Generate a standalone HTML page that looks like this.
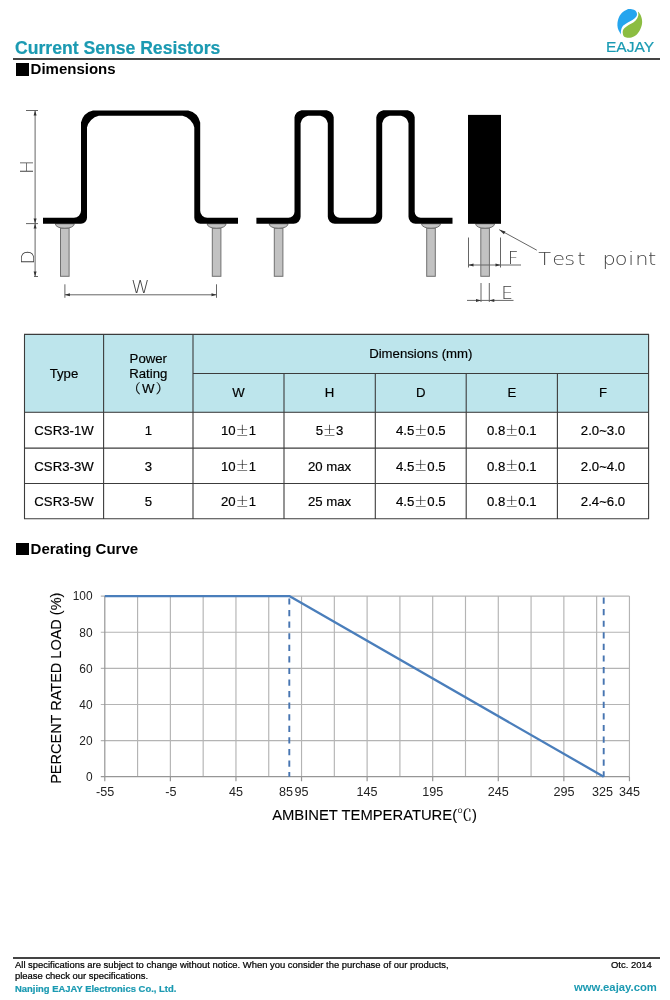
<!DOCTYPE html>
<html lang="en">
<head>
<meta charset="utf-8">
<title>Current Sense Resistors</title>
<style>
html,body{margin:0;padding:0;background:#fff;}
body{width:670px;height:1000px;position:relative;overflow:hidden;font-family:"Liberation Sans","Noto Sans CJK SC",sans-serif;color:#000;}
.abs{position:absolute;white-space:nowrap;line-height:1;}
.teal{color:#1b9ab2;}
#title{left:15px;top:40px;font-size:17.6px;font-weight:bold;-webkit-text-stroke:0.2px currentColor;}
#hline{left:13px;top:58px;width:647px;height:2px;background:#444;}
.sec{font-size:15px;font-weight:bold;}
.sq{position:absolute;width:13px;height:12.5px;background:#000;}
#brand{left:605.5px;top:39.2px;font-size:15.4px;color:#1a9bb3;transform:scaleX(1.01);transform-origin:0 0;-webkit-text-stroke:0.2px currentColor;}
#fline{left:13px;top:957px;width:647px;height:1.5px;background:#444;}
.ft{font-size:9.43px;-webkit-text-stroke:0.22px currentColor;}
</style>
</head>
<body>
<div id="title" class="abs teal">Current Sense Resistors</div>
<div id="hline" class="abs"></div>
<svg class="abs" style="left:600px;top:0" width="70" height="45" viewBox="600 0 70 45">
<path fill="#25a5ee" d="M629.70,9.07 C630.90,9.10 632.79,9.40 633.88,9.85 C634.98,10.30 635.75,11.04 636.27,11.76 C636.79,12.48 637.00,13.30 636.99,14.15 C636.97,15.00 636.85,15.92 636.15,16.84 C635.45,17.75 634.26,18.68 632.81,19.64 C631.35,20.61 629.02,21.63 627.43,22.63 C625.84,23.62 624.29,24.44 623.25,25.61 C622.22,26.79 621.62,28.40 621.22,29.67 C620.83,30.95 620.85,32.36 620.87,33.25 C620.89,34.15 621.56,35.24 621.34,35.04 C621.12,34.85 620.15,33.25 619.55,32.06 C618.96,30.87 618.11,29.37 617.76,27.88 C617.41,26.39 617.26,24.90 617.46,23.10 C617.66,21.31 618.11,18.93 618.96,17.13 C619.80,15.34 621.24,13.60 622.54,12.36 C623.83,11.11 625.52,10.22 626.72,9.67 C627.91,9.12 628.51,9.04 629.70,9.07Z"/>
<path fill="#8cbd42" d="M638.06,11.76 C638.41,11.76 639.80,13.45 640.45,14.75 C641.09,16.04 641.69,17.93 641.94,19.52 C642.19,21.11 642.29,22.51 641.94,24.30 C641.59,26.09 640.80,28.48 639.85,30.27 C638.91,32.06 637.66,33.85 636.27,35.04 C634.88,36.24 632.99,36.99 631.49,37.43 C630.00,37.88 628.56,37.88 627.31,37.73 C626.07,37.58 624.78,37.18 624.03,36.54 C623.28,35.89 623.03,34.80 622.84,33.85 C622.64,32.91 622.55,31.82 622.84,30.87 C623.12,29.91 623.66,29.04 624.57,28.12 C625.47,27.19 626.76,26.28 628.27,25.31 C629.78,24.35 632.17,23.45 633.64,22.33 C635.11,21.20 636.32,19.83 637.10,18.57 C637.89,17.30 638.20,15.88 638.36,14.75 C638.52,13.61 637.71,11.76 638.06,11.76Z"/>
</svg>
<div id="brand" class="abs">EAJAY</div>

<div class="sq" style="left:16px;top:63px"></div>
<div class="abs sec" style="left:30.6px;top:61.1px">Dimensions</div>

<!-- DIAGRAM -->
<svg class="abs" style="left:0;top:95px" width="670" height="225" viewBox="0 95 670 225" font-family="'Liberation Sans',sans-serif">
  <g fill="#c2c2c2" stroke="#707070" stroke-width="1">
    <path d="M55.3,223.8 A9.5,4.6 0 0 0 74.3,223.8 Z"/><rect x="60.5" y="228.3" width="8.6" height="48"/>
    <path d="M207.1,223.8 A9.5,4.6 0 0 0 226.1,223.8 Z"/><rect x="212.3" y="228.3" width="8.6" height="48"/>
    <path d="M269.1,223.8 A9.5,4.6 0 0 0 288.1,223.8 Z"/><rect x="274.3" y="228.3" width="8.6" height="48"/>
    <path d="M421.5,223.8 A9.5,4.6 0 0 0 440.5,223.8 Z"/><rect x="426.7" y="228.3" width="8.6" height="48"/>
    <path d="M475.6,223.8 A9.5,4.6 0 0 0 494.6,223.8 Z"/><rect x="480.8" y="228.3" width="8.6" height="48"/>
  </g>
  <g fill="#000" stroke="none">
    <path d="M43,217.8 H74 A7,7 0 0 0 81,210.8 V122.6 A16,16 0 0 1 93,110.6 H188.2 A16,16 0 0 1 200.2,122.6 V210.8 A7,7 0 0 0 207.2,217.8 H238 V223.8 H200.3 A6,6 0 0 1 194.3,217.8 V127.6 A15,15 0 0 0 182.5,115.8 H98.8 A15,15 0 0 0 87,127.6 V217.8 A6,6 0 0 1 81,223.8 H43 Z"/>
    <path d="M256.4,217.7 H288.5 A6,6 0 0 0 294.5,211.7 V117.2 A9,9 0 0 1 301.5,110.2 H326.7 A9,9 0 0 1 333.7,117.2 V211.7 A6,6 0 0 0 339.7,217.7 H370.3 A6,6 0 0 0 376.3,211.7 V117.2 A9,9 0 0 1 383.3,110.2 H407.7 A9,9 0 0 1 414.7,117.2 V211.7 A6,6 0 0 0 420.7,217.7 H452.5 V223.8 H415.5 A7,7 0 0 1 408.5,216.8 V123.3 A9.5,9.5 0 0 0 401,115.8 H389.7 A9.5,9.5 0 0 0 382.2,123.3 V216.8 A7,7 0 0 1 375.2,223.8 H334.8 A7,7 0 0 1 327.8,216.8 V123.3 A9.5,9.5 0 0 0 320.3,115.8 H308.1 A9.5,9.5 0 0 0 300.6,123.3 V216.8 A7,7 0 0 1 293.6,223.8 H256.4 Z"/>
  </g>
  <rect x="468" y="114.9" width="33" height="108.9" fill="#000"/>
  <g stroke="#666" stroke-width="1" fill="none">
    <path d="M26,110.5 H38 M35.1,110.5 V276.5 M26,223.6 H38 M34,276.5 H38"/>
    <path d="M64.9,284.3 V297.8 M216.5,284.3 V297.8 M64.9,294.8 H216.5"/>
    <path d="M468.5,237.5 V267.5 M500.5,237.5 V267.5 M468.5,265 H521"/>
    <path d="M481,283 V302 M489.3,283 V302 M467,300.4 H513.5"/>
    <path d="M499.3,229.7 L536.8,250.2"/>
  </g>
  <g fill="#333">
    <path d="M35.1,110.5 l-1.5,5 h3z M35.1,223.6 l-1.5,-5 h3z M35.1,223.6 l-1.5,5 h3z M35.1,276.5 l-1.5,-5 h3z"/>
    <path d="M64.9,294.8 l5,-1.5 v3z M216.5,294.8 l-5,-1.5 v3z"/>
    <path d="M468.5,265 l5,-1.5 v3z M500.5,265 l-5,-1.5 v3z"/>
    <path d="M481,300.4 l-5,-1.5 v3z M489.3,300.4 l5,-1.5 v3z"/>
    <path d="M499.3,229.7 l6.2,1.7 l-1.6,2.9z"/>
  </g>
  <g fill="#444" font-size="18.5" font-family="'DejaVu Sans Light','DejaVu Sans',sans-serif" font-weight="200">
    <text transform="translate(33.4,173.9) rotate(-90)">H</text>
    <text transform="translate(33.6,264.6) rotate(-90)">D</text>
    <text x="140.5" y="293.4" text-anchor="middle">W</text>
    <text x="507.8" y="264.3">F</text>
    <text x="501.3" y="299.4">E</text>
    <text transform="scale(1.13,1)" x="476.3 488.8 499.3 510.9 522.1 533.1 544.1 555.9 562.2 573.5" y="264.6">Test point</text>
  </g>
</svg>

<!-- TABLE -->
<svg class="abs" style="left:0;top:325px" width="670" height="200" viewBox="0 325 670 200" font-family="'Liberation Sans','Noto Sans CJK SC',sans-serif" font-size="13.2" text-anchor="middle" fill="#000" stroke="#000" stroke-width="0.18">
  <rect x="24.5" y="334.4" width="624.1" height="77.9" fill="#bde5ec"/>
  <path d="M24.0,334.4 H649.1 M24.0,412.3 H649.1 M24.0,448.1 H649.1 M24.0,483.5 H649.1 M24.0,518.8 H649.1 M193.0,373.5 H648.6 M24.5,334.4 V518.8 M103.6,334.4 V518.8 M193.0,334.4 V518.8 M648.6,334.4 V518.8 M284.0,373.5 V518.8 M375.3,373.5 V518.8 M466.2,373.5 V518.8 M557.4,373.5 V518.8" stroke="#3c3c3c" stroke-width="1.1" fill="none"/>
  <text x="64.0" y="378.2">Type</text>
  <text x="148.3" y="363.1">Power</text>
  <text x="148.3" y="378.0">Rating</text>
  <text x="148.3" y="392.8"><tspan font-family="'Noto Serif CJK SC',serif">（</tspan><tspan dx="1.3">W</tspan><tspan dx="1.3" font-family="'Noto Serif CJK SC',serif">）</tspan></text>
  <text x="420.8" y="358.4">Dimensions (mm)</text>
  <text x="238.5" y="397.1">W</text>
  <text x="329.6" y="397.1">H</text>
  <text x="420.8" y="397.1">D</text>
  <text x="511.8" y="397.1">E</text>
  <text x="603.0" y="397.1">F</text>
  <text x="64.0" y="435.3">CSR3-1W</text>
  <text x="148.3" y="435.3">1</text>
  <text x="238.5" y="435.3">10<tspan font-family="'Noto Serif CJK SC',serif" font-size="13" stroke-width="0.05" dy="-0.6">±</tspan><tspan dy="0.6">1</tspan></text>
  <text x="329.6" y="435.3">5<tspan font-family="'Noto Serif CJK SC',serif" font-size="13" stroke-width="0.05" dy="-0.6">±</tspan><tspan dy="0.6">3</tspan></text>
  <text x="420.8" y="435.3">4.5<tspan font-family="'Noto Serif CJK SC',serif" font-size="13" stroke-width="0.05" dy="-0.6">±</tspan><tspan dy="0.6">0.5</tspan></text>
  <text x="511.8" y="435.3">0.8<tspan font-family="'Noto Serif CJK SC',serif" font-size="13" stroke-width="0.05" dy="-0.6">±</tspan><tspan dy="0.6">0.1</tspan></text>
  <text x="603.0" y="435.3">2.0~3.0</text>
  <text x="64.0" y="470.9">CSR3-3W</text>
  <text x="148.3" y="470.9">3</text>
  <text x="238.5" y="470.9">10<tspan font-family="'Noto Serif CJK SC',serif" font-size="13" stroke-width="0.05" dy="-0.6">±</tspan><tspan dy="0.6">1</tspan></text>
  <text x="329.6" y="470.9">20 max</text>
  <text x="420.8" y="470.9">4.5<tspan font-family="'Noto Serif CJK SC',serif" font-size="13" stroke-width="0.05" dy="-0.6">±</tspan><tspan dy="0.6">0.5</tspan></text>
  <text x="511.8" y="470.9">0.8<tspan font-family="'Noto Serif CJK SC',serif" font-size="13" stroke-width="0.05" dy="-0.6">±</tspan><tspan dy="0.6">0.1</tspan></text>
  <text x="603.0" y="470.9">2.0~4.0</text>
  <text x="64.0" y="506.2">CSR3-5W</text>
  <text x="148.3" y="506.2">5</text>
  <text x="238.5" y="506.2">20<tspan font-family="'Noto Serif CJK SC',serif" font-size="13" stroke-width="0.05" dy="-0.6">±</tspan><tspan dy="0.6">1</tspan></text>
  <text x="329.6" y="506.2">25 max</text>
  <text x="420.8" y="506.2">4.5<tspan font-family="'Noto Serif CJK SC',serif" font-size="13" stroke-width="0.05" dy="-0.6">±</tspan><tspan dy="0.6">0.5</tspan></text>
  <text x="511.8" y="506.2">0.8<tspan font-family="'Noto Serif CJK SC',serif" font-size="13" stroke-width="0.05" dy="-0.6">±</tspan><tspan dy="0.6">0.1</tspan></text>
  <text x="603.0" y="506.2">2.4~6.0</text>
</svg>


<div class="sq" style="left:16px;top:542.5px"></div>
<div class="abs sec" style="left:30.6px;top:540.8px">Derating Curve</div>

<!-- CHART -->
<svg class="abs" style="left:0;top:580px" width="670" height="250" viewBox="0 580 670 250" font-family="'Liberation Sans','Noto Sans CJK SC',sans-serif">
  <path d="M137.59,596.10 V776.70 M170.38,596.10 V776.70 M203.17,596.10 V776.70 M235.96,596.10 V776.70 M268.75,596.10 V776.70 M301.54,596.10 V776.70 M334.33,596.10 V776.70 M367.12,596.10 V776.70 M399.91,596.10 V776.70 M432.70,596.10 V776.70 M465.49,596.10 V776.70 M498.28,596.10 V776.70 M531.07,596.10 V776.70 M563.86,596.10 V776.70 M596.65,596.10 V776.70 M629.44,596.10 V776.70 M100.80,596.10 H629.44 M100.80,632.22 H629.44 M100.80,668.34 H629.44 M100.80,704.46 H629.44 M100.80,740.58 H629.44" stroke="#b4b4b4" stroke-width="1.15" fill="none"/>
  <path d="M104.80,596.10 V781.20 M100.80,776.70 H629.44 M170.38,776.70 V781.20 M235.96,776.70 V781.20 M301.54,776.70 V781.20 M367.12,776.70 V781.20 M432.70,776.70 V781.20 M498.28,776.70 V781.20 M563.86,776.70 V781.20 M629.44,776.70 V781.20" stroke="#969696" stroke-width="1.2" fill="none"/>
  <path d="M289.30,598.4 V776.70 M603.70,597.5 V776.70" stroke="#4775b1" stroke-width="1.9" stroke-dasharray="6.2 5.38" fill="none"/>
  <path d="M104.80,596.10 H289.30 L603.70,776.70" stroke="#4a7ebb" stroke-width="2.3" fill="none" stroke-linejoin="round"/>
  <g font-size="11.9" fill="#222" text-anchor="end">
    <text x="92.6" y="600.4">100</text><text x="92.6" y="636.5">80</text><text x="92.6" y="672.6">60</text><text x="92.6" y="708.8">40</text><text x="92.6" y="744.9">20</text><text x="92.6" y="781.0">0</text>
  </g>
  <g font-size="12.6" fill="#222" text-anchor="middle">
    <text x="105.2" y="796.3">-55</text><text x="170.8" y="796.3">-5</text><text x="236.0" y="796.3">45</text><text x="301.4" y="796.3">95</text><text x="367.1" y="796.3">145</text><text x="432.7" y="796.3">195</text><text x="498.3" y="796.3">245</text><text x="563.9" y="796.3">295</text><text x="629.4" y="796.3">345</text><text x="286.1" y="796.3">85</text><text x="602.6" y="796.3">325</text>
  </g>
  <text x="374.5" y="819.8" font-size="14.8" text-anchor="middle" fill="#000" stroke="#000" stroke-width="0.1">AMBINET TEMPERATURE(<tspan font-family="'Noto Serif CJK SC',serif">℃</tspan>)</text>
  <text transform="translate(61.2,688.2) rotate(-90)" font-size="14.5" text-anchor="middle" fill="#000" stroke="#000" stroke-width="0.12">PERCENT RATED LOAD (%)</text>
</svg>

<!-- FOOTER -->
<div id="fline" class="abs"></div>
<div class="abs ft" style="left:15px;top:960px">All specifications are subject to change without notice. When you consider the purchase of our products,</div>
<div class="abs ft" style="left:15px;top:971px">please check our specifications.</div>
<div class="abs ft" style="left:611px;top:960px">Otc. 2014</div>
<div class="abs ft teal" style="left:15px;top:983.5px;font-weight:bold">Nanjing EAJAY Electronics Co., Ltd.</div>
<div class="abs teal" style="left:574px;top:982.2px;font-weight:bold;font-size:11.3px">www.eajay.com</div>
</body>
</html>
